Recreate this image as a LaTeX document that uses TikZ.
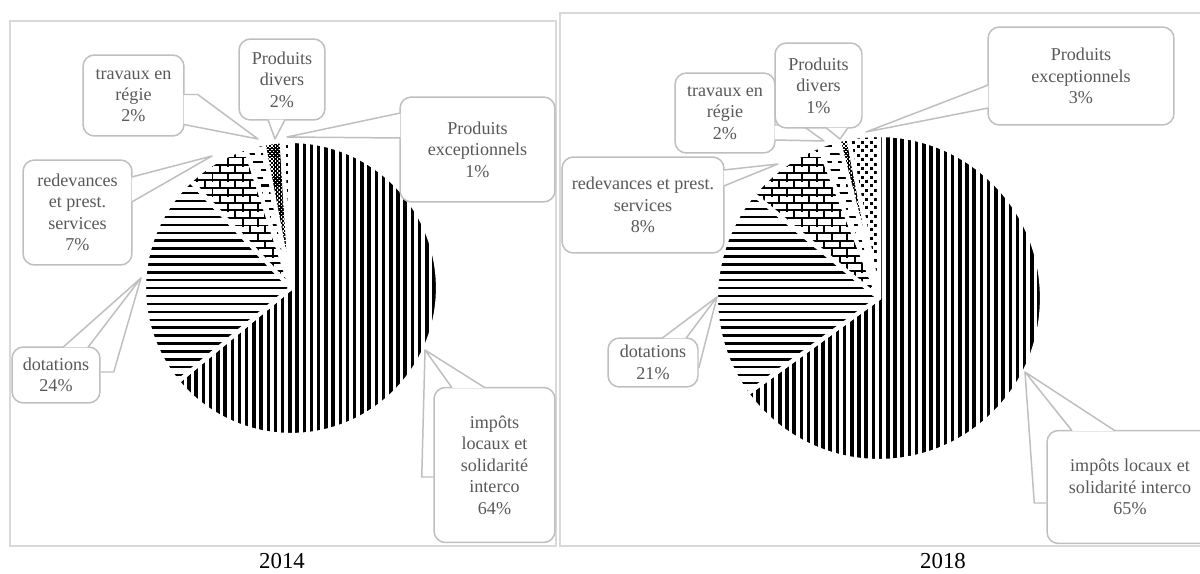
\documentclass[tikz,border=0pt]{standalone}
\usepackage{fontspec}
\setmainfont{Liberation Serif}
\usepackage{tikz}
\usetikzlibrary{patterns.meta,calc}
\definecolor{boxgray}{HTML}{BFBFBF}
\definecolor{framegray}{HTML}{D9D9D9}
\definecolor{labelgray}{HTML}{595959}

% fill patterns of the slices
\tikzdeclarepattern{name=vstripes,bottom left={(-0.5pt,-0.5pt)},top right={(4.6pt,4.6pt)},tile size={(4.1pt,4.1pt)},
  code={\fill (0pt,-0.5pt) rectangle (2pt,4.6pt);}}
\tikzdeclarepattern{name=hlines,bottom left={(-0.5pt,-0.5pt)},top right={(5pt,5pt)},tile size={(4.5pt,4.5pt)},
  code={\fill (-0.5pt,0pt) rectangle (5pt,1.4pt);}}
\tikzdeclarepattern{name=bricks,bottom left={(-0.5pt,-0.5pt)},top right={(9.1pt,9.1pt)},tile size={(8.6pt,8.6pt)},
  code={\fill (-0.5pt,0pt) rectangle (9.1pt,1.1pt); \fill (-0.5pt,4.3pt) rectangle (9.1pt,5.4pt);
        \fill (0pt,-0.5pt) rectangle (1.1pt,4.5pt); \fill (4.3pt,4.3pt) rectangle (5.4pt,9.1pt);}}
\tikzdeclarepattern{name=hdashes,bottom left={(-0.5pt,-0.5pt)},top right={(9.5pt,9.5pt)},tile size={(9pt,9pt)},
  code={\fill (0pt,0pt) rectangle (5.5pt,1.2pt); \fill (4.5pt,4.5pt) rectangle (9.5pt,5.7pt);
        \fill (-0.5pt,4.5pt) rectangle (1pt,5.7pt);}}
\tikzdeclarepattern{name=densedots,bottom left={(-0.2pt,-0.2pt)},top right={(2.4pt,2.4pt)},tile size={(2.2pt,2.2pt)},
  code={\fill (0pt,0pt) rectangle (1.3pt,1.3pt); \fill (1.1pt,1.1pt) rectangle (2.4pt,2.4pt);}}
\tikzdeclarepattern{name=sparsedots,bottom left={(-0.2pt,-0.2pt)},top right={(5.2pt,5.2pt)},tile size={(5pt,5pt)},
  code={\fill (0pt,0pt) rectangle (1.7pt,1.7pt); \fill (2.5pt,2.5pt) rectangle (4.2pt,4.2pt);}}

\begin{document}
\begin{tikzpicture}[x=0.02cm,y=-0.02cm,every node/.style={font=\fontsize{10.3}{12.2}\selectfont,align=center,text=labelgray},
  callout/.style={draw=boxgray,fill=white,line width=0.85pt,rounded corners=6.5pt,inner sep=2pt},
  leg/.style={draw=boxgray,fill=white,line width=0.85pt,line join=round},
  panel/.style={draw=framegray,line width=1.1pt},
  slice/.style={draw=white,line width=2.4pt,line join=round},
  year/.style={font=\fontsize{13}{15}\selectfont,text=black}]
\useasboundingbox (0,0) rectangle (1200,574);
\begin{scope}
\clip (0,0) rectangle (1200,574);
\draw[panel] (10,21) rectangle (556,546);
\draw[panel] (560,13) rectangle (1326,546);

% 2014
\coordinate (cL) at (291,288);
\foreach \a/\b/\p in {0/64/vstripes,64/88/hlines,88/95/bricks,95/97/hdashes,97/99/densedots,99/100/sparsedots}
  \draw[slice,pattern=\p] (cL) -- ++(-90+3.6*\a:147) arc[start angle=-90+3.6*\a,end angle=-90+3.6*\b,radius=147] -- cycle;

\coordinate (tTrL) at (258,139); \coordinate (tDvL) at (275,139); \coordinate (tExL) at (287,137);
\coordinate (tRdL) at (212,156); \coordinate (tDtL) at (141,278); \coordinate (tImL) at (425,350);

\node[callout,minimum width=2.02cm,minimum height=1.62cm] (trL) at (133.5,95.5) {travaux en\\régie\\2\%};
\filldraw[leg] ([shift={(-1,-1)}]trL.east) -- ([shift={(13,-1)}]trL.east) -- (tTrL) -- ([shift={(-1,29)}]trL.east);
\node[callout,minimum width=1.72cm,minimum height=1.62cm] (dvL) at (282,79.5) {Produits\\divers\\2\%};
\filldraw[leg] ([shift={(-14,-1)}]dvL.south) -- (tDvL) -- ([shift={(3,-1)}]dvL.south);
\node[callout,minimum width=3.1cm,minimum height=2.1cm] (exL) at (477.5,149.5) {Produits\\exceptionnels\\1\%};
\filldraw[leg] ([shift={(1,-36.5)}]exL.west) -- (tExL) -- ([shift={(1,-11.5)}]exL.west);
\node[callout,minimum width=2.18cm,minimum height=2.1cm] (rdL) at (77.5,212.5) {redevances\\et prest.\\services\\7\%};
\filldraw[leg] ([shift={(-1,-35.5)}]rdL.east) -- (tRdL) -- ([shift={(-1,-10.5)}]rdL.east);
\node[callout,minimum width=1.76cm,minimum height=1.12cm] (dtL) at (56,375) {dotations\\24\%};
\filldraw[leg] ([shift={(7,1)}]dtL.north) -- (tDtL) -- ([shift={(32,1)}]dtL.north);
\draw[leg,fill=none] (tDtL) -- ([shift={(13,-3)}]dtL.east) -- ([shift={(0,-3)}]dtL.east);
\node[callout,minimum width=2.42cm,minimum height=3.1cm] (imL) at (494.5,465) {impôts\\locaux et\\solidarité\\interco\\64\%};
\filldraw[leg] ([shift={(-42.5,1)}]imL.north) -- (tImL) -- ([shift={(-9.5,1)}]imL.north);
\draw[leg,fill=none] (tImL) -- ([shift={(-11.5,12)}]imL.west) -- ([shift={(0,12)}]imL.west);

% 2018
\coordinate (cR) at (879,298);
\foreach \a/\b/\p in {0/65/vstripes,65/86/hlines,86/94/bricks,94/96/hdashes,96/97/densedots,97/100/sparsedots}
  \draw[slice,pattern=\p] (cR) -- ++(-90+3.6*\a:163) arc[start angle=-90+3.6*\a,end angle=-90+3.6*\b,radius=163] -- cycle;

\coordinate (tTrR) at (824,141); \coordinate (tDvR) at (840,139); \coordinate (tExR) at (866,132);
\coordinate (tRdR) at (778,164); \coordinate (tDtR) at (717,297); \coordinate (tImR) at (1025,372);

\node[callout,minimum width=2cm,minimum height=1.6cm] (trR) at (725,113) {travaux en\\régie\\2\%};
\filldraw[leg] ([shift={(-1,12)}]trR.east) -- ([shift={(26,12)}]trR.east) -- (tTrR) -- ([shift={(-1,27)}]trR.east);
\node[callout,minimum width=1.74cm,minimum height=1.7cm] (dvR) at (818.5,85.5) {Produits\\divers\\1\%};
\filldraw[leg] ([shift={(7.5,-1)}]dvR.south) -- (tDvR) -- ([shift={(29.5,-1)}]dvR.south);
\node[callout,minimum width=3.72cm,minimum height=1.96cm] (exR) at (1081,76) {Produits\\exceptionnels\\3\%};
\filldraw[leg] ([shift={(1,9)}]exR.west) -- (tExR) -- ([shift={(1,32)}]exR.west);
\node[callout,minimum width=3.24cm,minimum height=1.92cm] (rdR) at (643,205) {redevances et prest.\\services\\8\%};
\filldraw[leg] ([shift={(-1,-35)}]rdR.east) -- (tRdR) -- ([shift={(-1,-19)}]rdR.east);
\node[callout,minimum width=1.8cm,minimum height=0.98cm] (dtR) at (653,362.5) {dotations\\21\%};
\filldraw[leg] ([shift={(9,1)}]dtR.north) -- (tDtR) -- ([shift={(33,1)}]dtR.north);
\draw[leg,fill=none] (tDtR) -- ([shift={(0,5.5)}]dtR.east);
\node[callout,minimum width=3.32cm,minimum height=2.26cm] (imR) at (1130,487) {impôts locaux et\\solidarité interco\\65\%};
\filldraw[leg] ([shift={(-58,1)}]imR.north) -- (tImR) -- ([shift={(-15,1)}]imR.north);
\draw[leg,fill=none] (tImR) -- ([shift={(-12,16)}]imR.west) -- ([shift={(0,16)}]imR.west);

\node[year] (y14) at (282,561) {2014};
\node[year] (y18) at (943,561) {2018};
\end{scope}
\end{tikzpicture}
\end{document}
